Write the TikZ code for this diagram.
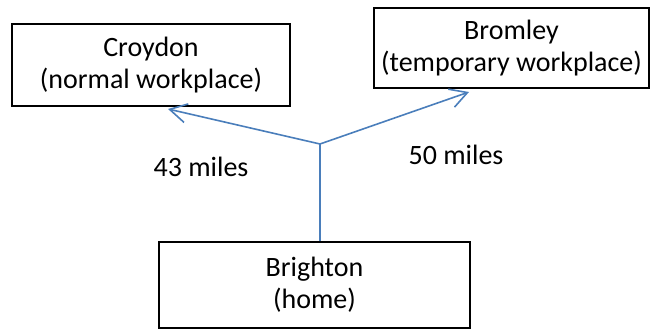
\documentclass[tikz,border=0pt]{standalone}
\usepackage{fontspec}
\setmainfont{Carlito}
\usetikzlibrary{arrows.meta}
\definecolor{routeblue}{HTML}{4A7EBB}
\begin{document}
\begin{tikzpicture}[x=1pt,y=-1pt,
  every node/.style={font=\fontsize{28}{32}\selectfont},
  place/.style={draw,line width=1.6pt,align=center,inner sep=0pt},
  route/.style={routeblue,line width=1.6pt}]
\useasboundingbox (0,0) rectangle (651,329);
\node[place,minimum width=278pt,minimum height=82pt] (croydon) at (151,65) {Croydon\\(normal workplace)};
\node[place,minimum width=275pt,minimum height=80pt] (bromley) at (511.5,48) {Bromley\\(temporary workplace)};
\node[place,minimum width=311pt,minimum height=86pt] (brighton) at (314.5,285) {Brighton\\(home)};
\coordinate (fork) at (320,144);
\coordinate (tocroydon) at (168,109);
\coordinate (tobromley) at (469,92);
\node (d43) at (201,167) {43 miles};
\node (d50) at (456,155) {50 miles};
\draw[route] (brighton.north -| fork) to (fork);
\draw[route,-{Straight Barb[length=17pt,width=19pt]}] (fork) to (tocroydon);
\draw[route,-{Straight Barb[length=17pt,width=19pt]}] (fork) to (tobromley);
\end{tikzpicture}
\end{document}
